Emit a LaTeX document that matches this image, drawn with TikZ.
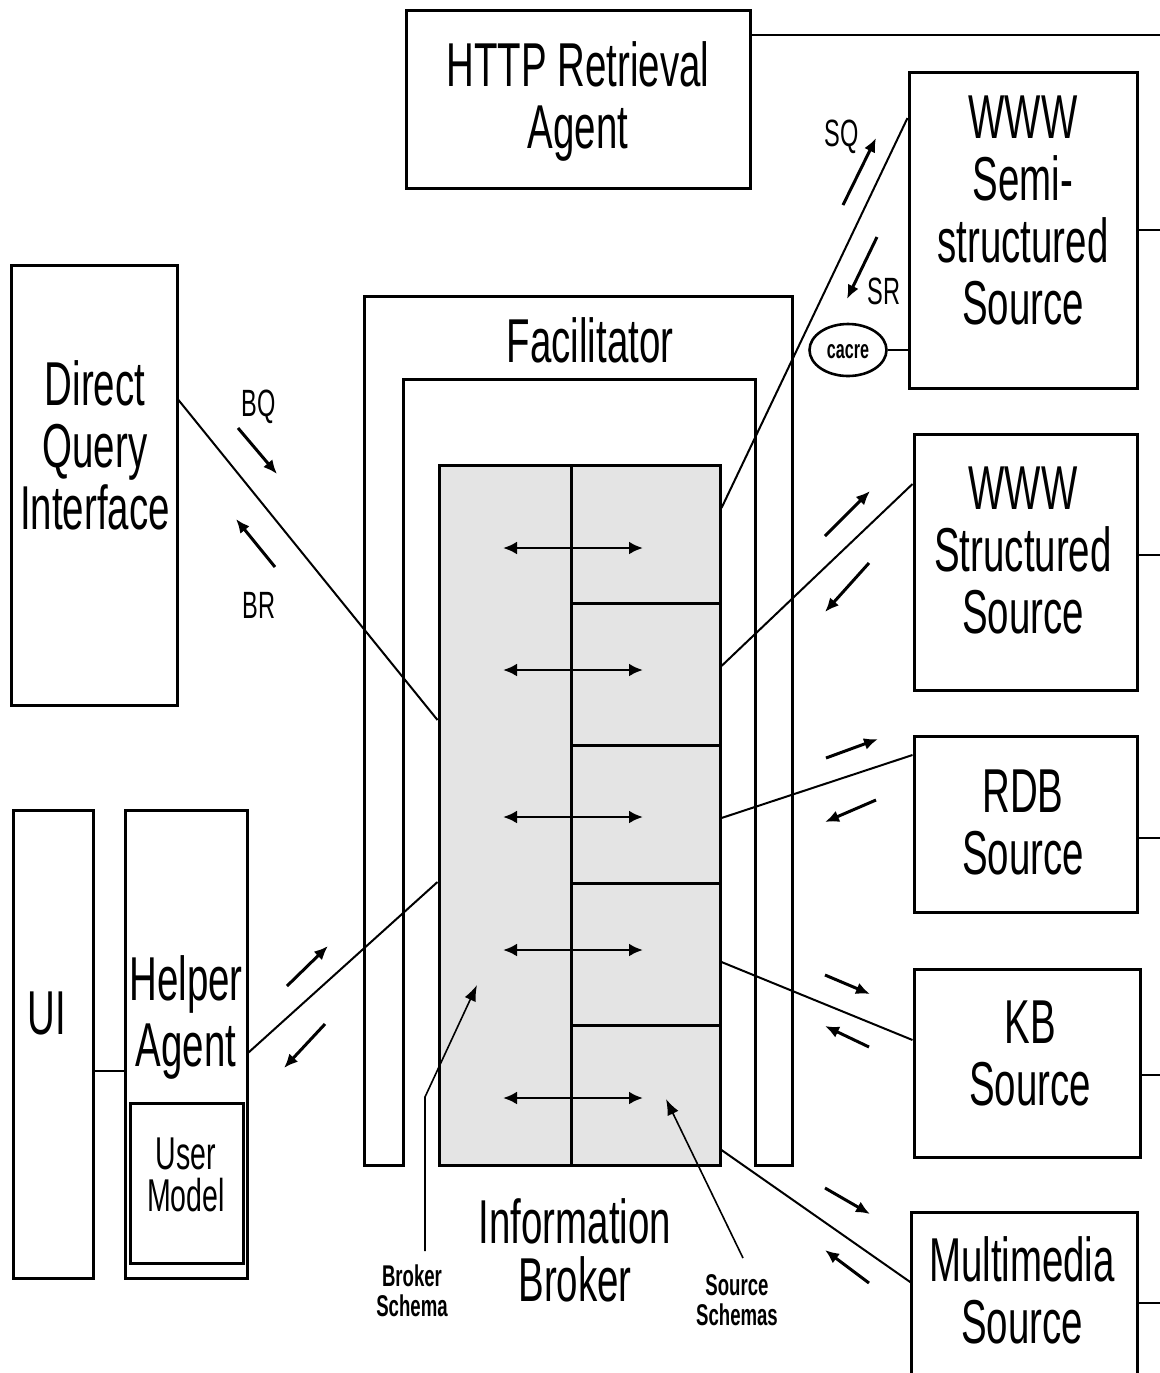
\documentclass[tikz,border=0pt]{standalone}
\usepackage{fontspec}
\setmainfont{Liberation Sans}[FakeStretch=0.62]
\usetikzlibrary{arrows.meta,shapes.geometric,calc}
\definecolor{brokergray}{RGB}{228,228,228}
\begin{document}
\begin{tikzpicture}[x=0.5pt,y=-0.5pt,
  box/.style={draw, line width=1.5pt, inner sep=0pt, fill=white},
  big/.style={font=\fontsize{31}{31}\selectfont, align=center, inner sep=0pt},
  small/.style={font=\fontsize{19}{19}\selectfont, align=center, inner sep=0pt},
  tiny/.style={font=\bfseries\fontsize{15}{15}\selectfont, align=center, inner sep=0pt},
  conn/.style={line width=1pt},
  sarrow/.style={line width=1.5pt, -{Latex[length=7pt,width=6pt]}},
  dblarrow/.style={line width=1.4pt, {Latex[length=7pt,width=6.5pt]}-{Latex[length=7pt,width=6.5pt]}},
  pointer/.style={line width=0.8pt, -{Latex[length=8pt,width=6pt]}}]
\useasboundingbox (0,0) rectangle (1160,1373);
\coordinate (rightedge) at (1160,0);

% Facilitator frame
\draw[line width=1.5pt] (364,1165) -- (364,296) -- (792,296) -- (792,1165) -- (755,1165)
  -- (755,379) -- (403,379) -- (403,1165) -- cycle;
\node[big] (fac) at (590,340) {Facilitator};

% Information broker
\node[box, fill=brokergray, minimum width=140.5pt, minimum height=350pt] (broker) at (579.5,815) {};
\draw[line width=1.5pt] (571,465) -- (571,1165);
\foreach \yy in {603,745,883,1025} \draw[line width=1.5pt] (571,\yy) -- (720,\yy);
\foreach \yy in {548,670,817,950,1098} \draw[dblarrow] (503,\yy) -- (643,\yy);
\node[big] (ibt) at (575,1250) {Information\\[-2pt]Broker};

% boxes
\node[box, minimum width=172pt, minimum height=89pt] (http) at (578,99) {};
\node[big] (httpt) at (578,101) {HTTP Retrieval\\[0pt]Agent};

\node[box, minimum width=114pt, minimum height=158pt] (semi) at (1023,230) {};
\node[big] (semit) at (1023,210) {WWW\\Semi-\\structured\\Source};

\node[box, minimum width=111.5pt, minimum height=128pt] (struct) at (1025.5,562) {};
\node[big] (structt) at (1023,550) {WWW\\Structured\\Source};

\node[box, minimum width=111.5pt, minimum height=88pt] (rdb) at (1025.5,824) {};
\node[big] (rdbt) at (1023,822) {RDB\\Source};

\node[box, minimum width=113pt, minimum height=94pt] (kb) at (1027,1063) {};
\node[big] (kbt) at (1030,1053) {KB\\Source};

\node[inner sep=0pt, minimum width=112.5pt, minimum height=83.5pt] (mm) at (1024.5,1296.5) {};
\draw[line width=1.5pt] (mm.south west) |- (mm.north east) -- (mm.south east);
\node[big] (mmt) at (1022,1290) {Multimedia\\Source};

\node[draw, ellipse, line width=1.3pt, minimum width=38.5pt, minimum height=26pt, inner sep=0pt] (cache) at (848,350) {};
\node[font=\bfseries\fontsize{13}{13}\selectfont, inner sep=0pt] (cachet) at (848,352) {cacre};

\node[box, minimum width=83pt, minimum height=220pt] (dqi) at (94,485) {};
\node[big] (dqit) at (95,445) {Direct\\Query\\Interface};

\node[box, minimum width=40pt, minimum height=234pt] (ui) at (53,1044) {};
\node[big] (uit) at (47,1013) {UI};

\node[box, minimum width=61pt, minimum height=234pt] (helper) at (186,1044) {};
\node[big] (helpert) at (186,1017) {Helper\\[2pt]Agent};

\node[box, minimum width=56.5pt, minimum height=80pt] (um) at (186.5,1183) {};
\node[font=\fontsize{23}{21}\selectfont, align=center, inner sep=0pt] (umt) at (186,1175) {User\\Model};

% right stubs
\draw[line width=1.3pt] ([yshift=32pt]http.east) -- ([yshift=32pt]http.east -| rightedge);
\draw[line width=1.3pt] (semi.east) -- (semi.east -| rightedge);
\draw[line width=1.3pt] ([yshift=3.5pt]struct.east) -- ([yshift=3.5pt]struct.east -| rightedge);
\draw[line width=1.3pt] ([yshift=-7pt]rdb.east) -- ([yshift=-7pt]rdb.east -| rightedge);
\draw[line width=1.3pt] ([yshift=-6pt]kb.east) -- ([yshift=-6pt]kb.east -| rightedge);
\draw[line width=1.3pt] ([yshift=-3.25pt]mm.east) -- ([yshift=-3.25pt]mm.east -| rightedge);

% cache link and UI link
\draw[line width=1.3pt] (cache.east) -- (cache.east -| semi.west);
\draw[line width=1.3pt] ([yshift=-13.5pt]ui.east) -- ([yshift=-13.5pt]ui.east -| helper.west);

% connectors to broker
\draw[conn] ([yshift=42.5pt]dqi.east) -- ([yshift=47.5pt]broker.west);
\draw[conn] ([yshift=-4.25pt]helper.east) -- ([yshift=-33.5pt]broker.west);
\draw[conn] ([yshift=153.5pt]broker.east) -- ([yshift=56pt]semi.west);
\draw[conn] ([yshift=74.5pt]broker.east) -- ([yshift=39pt]struct.west);
\draw[conn] ([yshift=-1.5pt]broker.east) -- ([yshift=34.5pt]rdb.west);
\draw[conn] ([yshift=-73.5pt]broker.east) -- ([yshift=11.5pt]kb.west);
\draw[conn] ([yshift=-167.5pt]broker.east) -- ([yshift=6.75pt]mm.west);

% message arrows and labels
\node[small] (bq) at (259,407) {BQ};
\node[small] (br) at (259,605) {BR};
\node[small] (sq) at (842,137) {SQ};
\node[small] (sr) at (884,291) {SR};
\draw[sarrow] (238,428) -- (277,474);
\draw[sarrow] (275,567) -- (236,519);
\draw[sarrow] (843,205) -- (876,138);
\draw[sarrow] (877,237) -- (847,299);
\draw[sarrow] (825,536) -- (870,491);
\draw[sarrow] (869,563) -- (825,612);
\draw[sarrow] (826,758) -- (878,739);
\draw[sarrow] (876,800) -- (825,822);
\draw[sarrow] (825,975) -- (870,994);
\draw[sarrow] (869,1047) -- (825,1026);
\draw[sarrow] (825,1188) -- (870,1214);
\draw[sarrow] (869,1283) -- (825,1250);
\draw[sarrow] (287,986) -- (328,946);
\draw[sarrow] (325,1024) -- (284,1068);

% schema pointers
\node[tiny] (bs) at (412,1291) {Broker\\Schema};
\node[tiny] (ss) at (737,1300) {Source\\Schemas};
\coordinate (bstip) at (477,985);
\coordinate (sstip) at (666,1099);
\draw[pointer] (425,1251) -- (425,1097) -- (bstip);
\draw[pointer] (743,1258) -- (sstip);
\end{tikzpicture}
\end{document}
